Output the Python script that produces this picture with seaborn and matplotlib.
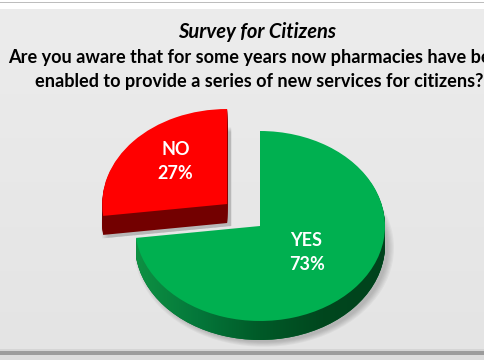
import numpy as np
import matplotlib
matplotlib.use("Agg")
import matplotlib.pyplot as plt
import seaborn as sns
from matplotlib.patches import Rectangle
from matplotlib.colors import LinearSegmentedColormap

# ---- data ----
categories = ["YES", "NO"]
values = [73, 27]
top_colors = ["#00B050", "#FF0000"]
side_colors = ["#006A2D", "#730000"]
side_gradient = ["#0E9143", "#04773A", "#005A28", "#00471E", "#00421C"]
explode_frac = [0.0, 0.35]
title_line1 = "Survey for Citizens"
title_line2 = "Are you aware that for some years now pharmacies have been"
title_line3 = "enabled to provide a series of new services for citizens?"

sns.set_theme(style="white")
plt.rcParams['font.family'] = ['Lato', 'DejaVu Sans']

W, H = 485, 360
fig = plt.figure(figsize=(W / 100, H / 100), dpi=100)
fig.patch.set_facecolor("white")

# ---- background / frame ----
bg = fig.add_axes([0, 0, 1, 1])
bg.axis("off")
grad = np.linspace(0.925, 0.895, 100).reshape(-1, 1)
bg.imshow(np.dstack([grad, grad, grad]), extent=(0, W, 349, 9), aspect="auto", zorder=0)
bg.add_patch(Rectangle((0, 1.5), W, 1.5, facecolor="#BDBDBD", edgecolor="none", zorder=1))
bg.add_patch(Rectangle((0, 349), W, 2, facecolor="#D5D5D5", edgecolor="none", zorder=1))
bg.add_patch(Rectangle((0, 351), W, 4, facecolor="#9C9C9C", edgecolor="none", zorder=1))
bg.add_patch(Rectangle((0, 355), W, 5, facecolor="#DCDCDC", edgecolor="none", zorder=1))
bg.set_xlim(0, W)
bg.set_ylim(H, 0)

# ---- pie (pseudo 3D) ----
ax = fig.add_axes([0, 0, 1, 1])
ax.patch.set_alpha(0)
R = 125.0            # x semi-axis in px
k = 125.0 / 95.0     # y compression factor
cx, cy_img = 260.0, 226.0
cy = (H - cy_img) * k
depth = 19
explode = [e * R for e in explode_frac]

pie_kw = dict(startangle=90, counterclock=False, radius=R, explode=explode,
              wedgeprops=dict(linewidth=0))

# soft shadow
for s in range(6):
    ax.pie(values, colors=["black", "black"], center=(cx + 4, cy - (depth + 3) * k),
           **{**pie_kw, "radius": R + 5 - s * 1.2,
              "wedgeprops": dict(linewidth=0, alpha=0.035)})

# side layers (green side gets a horizontal shading gradient)
side_cmap = LinearSegmentedColormap.from_list("side", side_gradient)
hgrad = np.linspace(0, 1, 256).reshape(1, -1)
for i in range(depth, 0, -1):
    wedges, _ = ax.pie(values, colors=side_colors, center=(cx, cy - i * k), **pie_kw)
    im = ax.imshow(hgrad, cmap=side_cmap, aspect="auto",
                   extent=(cx - R, cx + R, cy - i * k - R, cy - i * k + R),
                   zorder=wedges[0].get_zorder() + 0.01)
    im.set_clip_path(wedges[0])

# top surface with labels
labels = [f"{c}\n{v}%" for c, v in zip(categories, values)]
top_wedges, texts = ax.pie(values, colors=top_colors, center=(cx, cy), labels=labels,
                           labeldistance=0.55,
                           textprops=dict(color="white", fontsize=13, fontweight="bold",
                                          ha="center", va="center",
                                          multialignment="center", linespacing=1.5),
                           **pie_kw)
for w in top_wedges:
    w.set_zorder(5)
label_shift = [(-5, -8), (0, -8)]
for t, (dx, dy) in zip(texts, label_shift):
    x, y = t.get_position()
    t.set_position((x + dx, y - dy * k))
    t.set_zorder(6)

ax.set_aspect("auto")
ax.set_xlim(0, W)
ax.set_ylim(0, H * k)
ax.axis("off")

# ---- titles ----
fs_title = 13.1
fig.text(257 / W, 1 - 32 / H, title_line1, ha="center", va="center",
         fontsize=14.5, fontweight="bold", fontstyle="italic", color="black")
fig.text(259 / W, 1 - 57 / H, title_line2, ha="center", va="center",
         fontsize=fs_title, fontweight="bold", color="black")
fig.text(259 / W, 1 - 81 / H, title_line3, ha="center", va="center",
         fontsize=fs_title, fontweight="bold", color="black")

fig.savefig("out.png", dpi=100, facecolor=fig.get_facecolor())
